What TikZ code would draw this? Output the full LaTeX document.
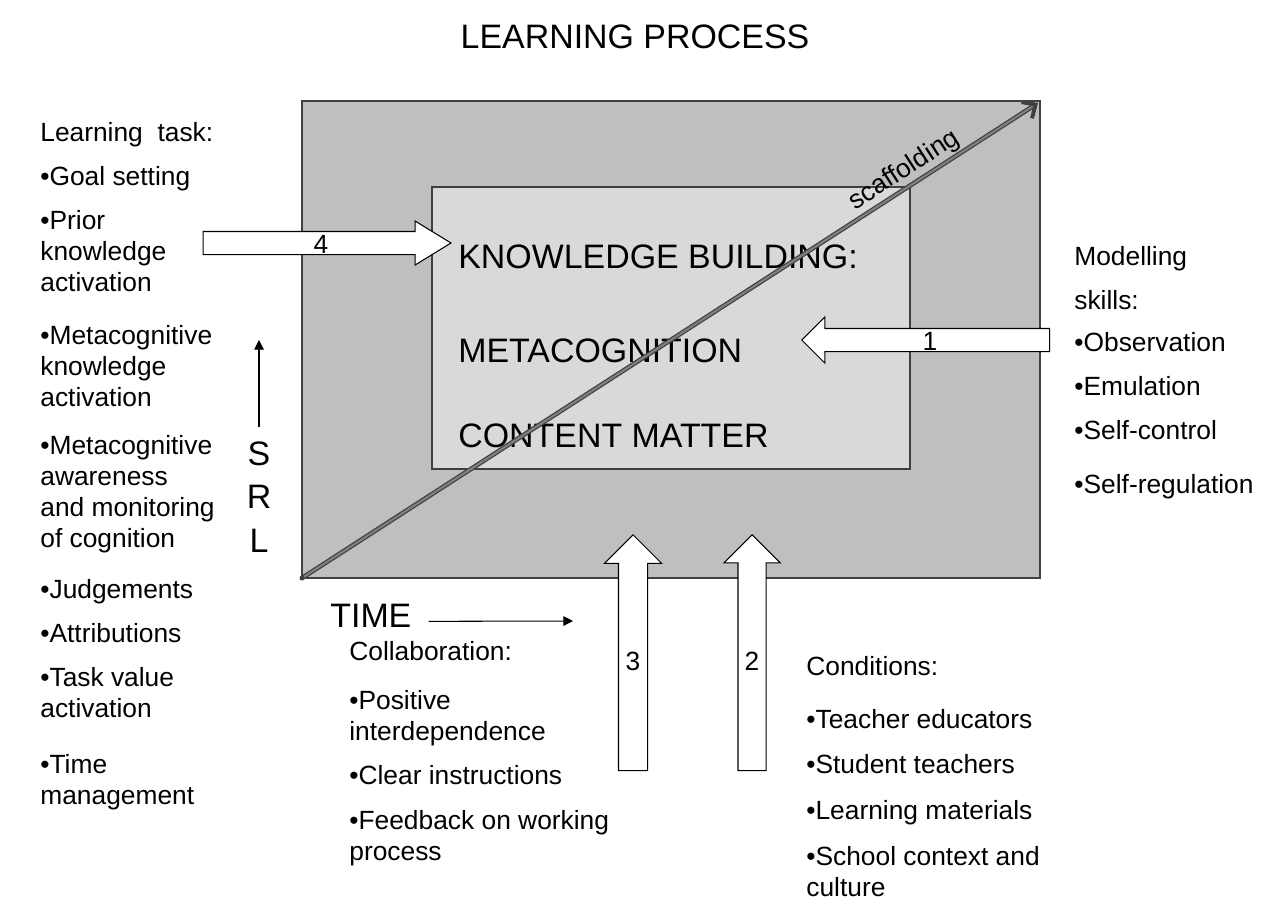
\documentclass[tikz,border=0pt]{standalone}
\usepackage{fontspec}
\setmainfont{Liberation Sans}
\usetikzlibrary{arrows.meta,shapes.arrows}

\definecolor{outerfill}{RGB}{191,191,191}
\definecolor{innerfill}{RGB}{217,217,217}
\definecolor{edgegray}{RGB}{64,64,64}

\begin{document}
\begin{tikzpicture}[x=0.02cm, y=-0.02cm,
    small/.style={font=\fontsize{15}{17.6}\selectfont, anchor=base west, align=left, inner sep=0pt},
    big/.style={font=\fontsize{19.3}{23}\selectfont, anchor=base west, inner sep=0pt},
    blockarrow/.style={single arrow, draw=black, fill=white, line width=0.6pt, inner sep=0pt,
        text depth=0pt, anchor=tip},
    num/.style={font=\fontsize{15}{18}\selectfont, anchor=base, inner sep=0pt},
    thinarrow/.style={-{Triangle[length=5.5pt,width=5.5pt]}, line width=0.6pt},
    scaffold/.style={draw=edgegray, line width=0.7pt, double=gray, double distance=1.2pt,
        -{Straight Barb[length=6pt,width=11pt,line width=2.2pt]}}]

    \useasboundingbox (0,0) rectangle (1270,903);

    \node[big, anchor=base] (title) at (635,48) {LEARNING PROCESS};

    % the two boxes
    \filldraw[fill=outerfill, draw=edgegray, line width=1pt] (302,101) rectangle (1040,578);
    \filldraw[fill=innerfill, draw=edgegray, line width=0.6pt] (432,187) rectangle (910,469);

    \node[big] (kb) at (458,268) {KNOWLEDGE BUILDING:};
    \node[big] (meta) at (458,362) {METACOGNITION};
    \node[big] (cm) at (458,447) {CONTENT MATTER};

    % block arrows 1-4
    \node[blockarrow, minimum height=4.96cm, text height=0.44cm,
        single arrow head extend=0.21cm, single arrow tip angle=63] (a4) at (452,243) {};
    \node[num] (n4) at (321,253) {4};
    \node[blockarrow, rotate=180, minimum height=4.96cm, text height=0.44cm,
        single arrow head extend=0.23cm] (a1) at (801,340) {};
    \node[num] (n1) at (930,350) {1};
    \node[blockarrow, rotate=90, minimum height=4.72cm, text height=0.56cm,
        single arrow head extend=0.28cm] (a3) at (633,534) {};
    \node[num] (n3) at (633,670) {3};
    \node[blockarrow, rotate=90, minimum height=4.72cm, text height=0.54cm,
        single arrow head extend=0.28cm] (a2) at (752,534) {};
    \node[num] (n2) at (752,670) {2};

    % scaffolding diagonal
    \coordinate (scafstart) at (302,578);
    \coordinate (scafend) at (1038,103);
    \draw[scaffold] (scafstart) -- (scafend)
        node[small, pos=0.83, sloped, anchor=south, inner sep=0.06cm] (scaflabel) {scaffolding};
    \fill[edgegray] (scafstart) circle (2.5);

    % SRL and TIME
    \node[big, font=\fontsize{19.3}{24.5}\selectfont, align=center, anchor=base] (srl) at (259,552) {S\\R\\L};
    \coordinate (srltop) at (259,340);
    \draw[thinarrow] ([yshift=0.3cm]srl.north) -- (srltop);

    \node[big] (time) at (330,627) {TIME};
    \coordinate (timeend) at (573,621);
    \draw[thinarrow] ([xshift=0.34cm,yshift=-0.12cm]time.east) -- (timeend);

    % learning task (base = last line)
    \node[small] (task0) at (40,141) {Learning~ task:};
    \node[small] (task1) at (40,185) {•Goal setting};
    \node[small] (task2) at (40,291) {•Prior\\knowledge\\activation};
    \node[small] (task3) at (40,406) {•Metacognitive\\knowledge\\activation};
    \node[small] (task4) at (40,547) {•Metacognitive\\awareness\\and monitoring\\of cognition};
    \node[small] (task5) at (40,598) {•Judgements};
    \node[small] (task6) at (40,642) {•Attributions};
    \node[small] (task7) at (40,717) {•Task value\\activation};
    \node[small] (task8) at (40,804) {•Time\\management};

    % modelling skills
    \node[small] (skill0) at (1074,265) {Modelling};
    \node[small] (skill1) at (1074,309) {skills:};
    \node[small] (skill2) at (1074,351) {•Observation};
    \node[small] (skill3) at (1074,395) {•Emulation};
    \node[small] (skill4) at (1074,439) {•Self-control};
    \node[small] (skill5) at (1074,493) {•Self-regulation};

    % collaboration
    \node[small] (collab0) at (349,660) {Collaboration:};
    \node[small] (collab1) at (349,740) {•Positive\\interdependence};
    \node[small] (collab2) at (349,784) {•Clear instructions};
    \node[small] (collab3) at (349,860) {•Feedback on working\\process};

    % conditions
    \node[small] (cond0) at (806,675) {Conditions:};
    \node[small] (cond1) at (806,728) {•Teacher educators};
    \node[small] (cond2) at (806,773) {•Student teachers};
    \node[small] (cond3) at (806,819) {•Learning materials};
    \node[small] (cond4) at (806,896) {•School context and\\culture};
\end{tikzpicture}
\end{document}
